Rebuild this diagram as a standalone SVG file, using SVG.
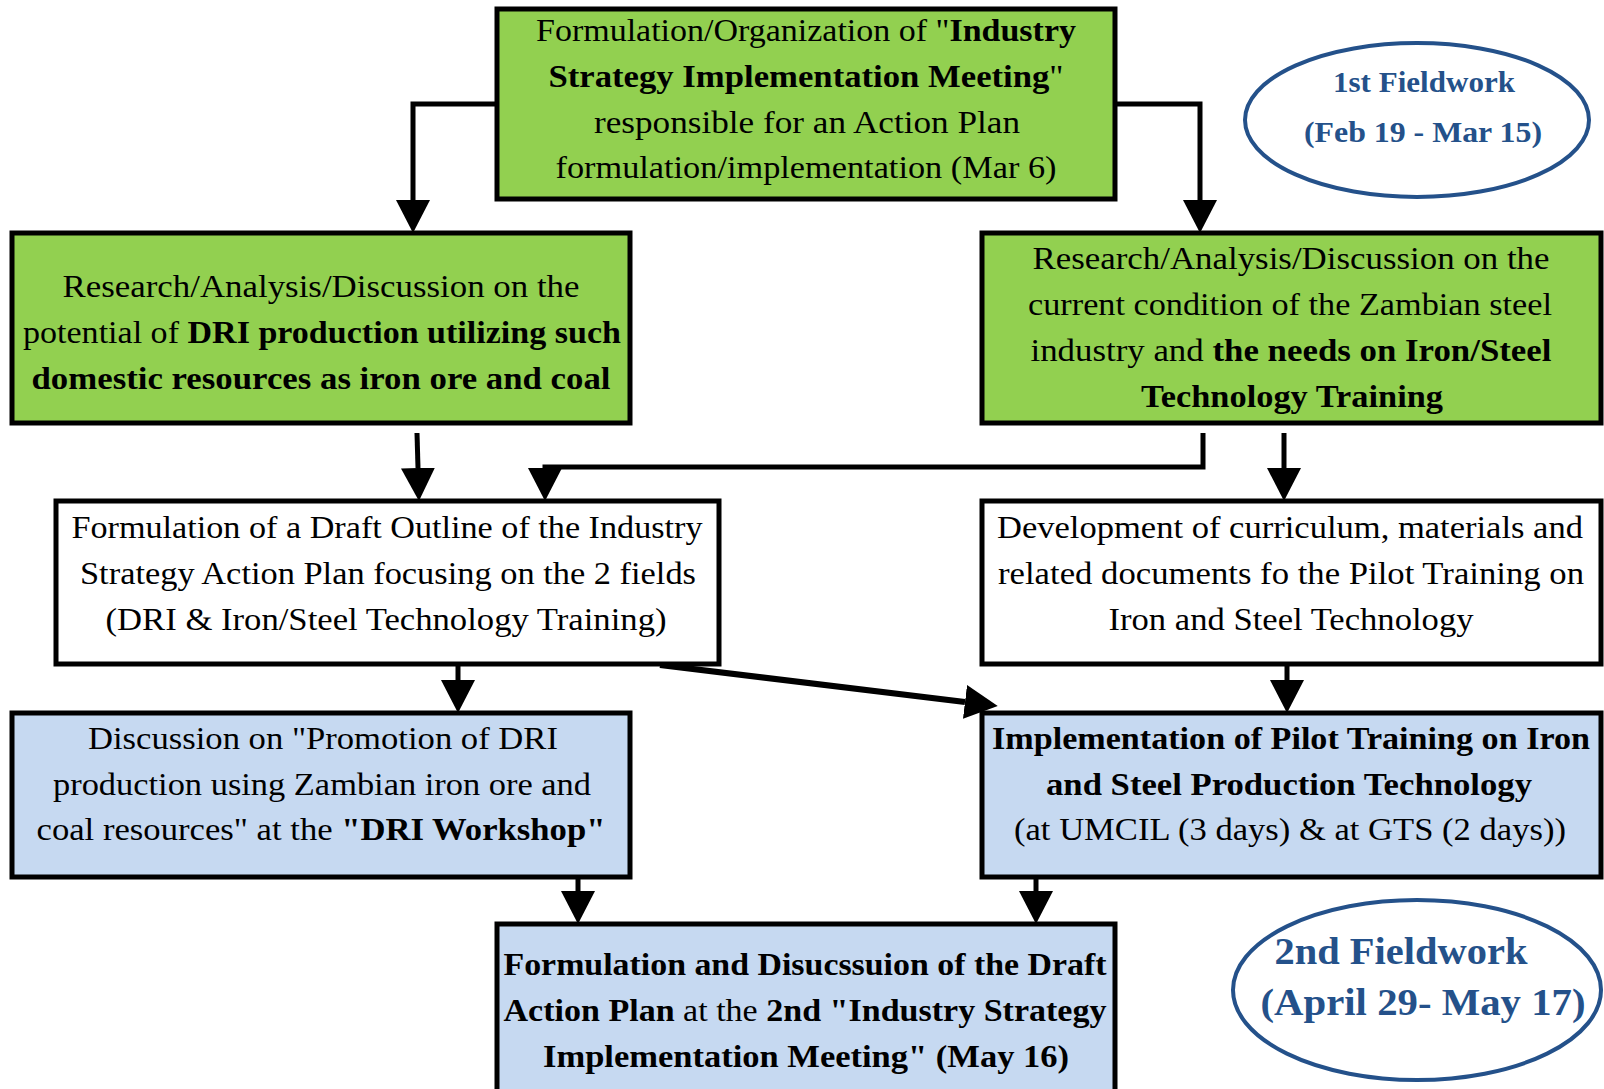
<svg xmlns="http://www.w3.org/2000/svg" width="1604" height="1089" viewBox="0 0 1604 1089">
<style>
.box{stroke:#000;stroke-width:5}
.g{fill:#92D050}
.w{fill:#FFFFFF}
.b{fill:#C6D9F1}
text{font-family:'Liberation Serif','Times New Roman',Times,'Nimbus Roman',serif;font-size:31px;fill:#000;text-anchor:middle}
.bd{font-weight:bold}
.ell{fill:none;stroke:#24518A;stroke-width:4}
.et{fill:#24518A;font-weight:bold}
.c{fill:none;stroke:#000;stroke-width:5}
</style>
<defs>
<marker id="ah" viewBox="0 0 33 34" markerWidth="33" markerHeight="34" refX="0" refY="17" orient="auto" markerUnits="userSpaceOnUse">
<path d="M0,0 L33,17 L0,34 z" fill="#000"/>
</marker>
</defs>
<rect width="1604" height="1089" fill="#FFFFFF"/>
<g id="connectors">
<polyline class="c" points="497,104 413,104 413,200" marker-end="url(#ah)"/>
<polyline class="c" points="1115,104 1200,104 1200,200" marker-end="url(#ah)"/>
<line class="c" x1="417" y1="433" x2="418" y2="468" marker-end="url(#ah)"/>
<polyline class="c" points="1203,433 1203,467 545,467 545,468" marker-end="url(#ah)"/>
<line class="c" x1="1284" y1="433" x2="1284" y2="468" marker-end="url(#ah)"/>
<line class="c" x1="458" y1="664" x2="458" y2="680" marker-end="url(#ah)"/>
<line class="c" x1="1287" y1="664" x2="1287" y2="680" marker-end="url(#ah)"/>
<line x1="660" y1="665" x2="965" y2="702" stroke="#000" stroke-width="6" marker-end="url(#ah)"/>
<line class="c" x1="578" y1="877" x2="578" y2="891" marker-end="url(#ah)"/>
<line class="c" x1="1036" y1="877" x2="1036" y2="891" marker-end="url(#ah)"/>
</g>
<g id="n_top">
<rect class="box g" x="497" y="9" width="618" height="190"/>
<text x="806" y="41" textLength="540" lengthAdjust="spacingAndGlyphs">Formulation/Organization of "<tspan class="bd">Industry</tspan></text>
<text x="806" y="87" textLength="515" lengthAdjust="spacingAndGlyphs"><tspan class="bd">Strategy Implementation Meeting</tspan>"</text>
<text x="807" y="133" textLength="426" lengthAdjust="spacingAndGlyphs">responsible for an Action Plan</text>
<text x="806" y="178" textLength="501" lengthAdjust="spacingAndGlyphs">formulation/implementation (Mar 6)</text>
</g>
<g id="n_left_green">
<rect class="box g" x="12" y="233" width="618" height="190"/>
<text x="321" y="297" textLength="517" lengthAdjust="spacingAndGlyphs">Research/Analysis/Discussion on the</text>
<text x="322" y="343" textLength="598" lengthAdjust="spacingAndGlyphs">potential of <tspan class="bd">DRI production utilizing such</tspan></text>
<text x="321" y="389" class="bd" textLength="579" lengthAdjust="spacingAndGlyphs">domestic resources as iron ore and coal</text>
</g>
<g id="n_right_green">
<rect class="box g" x="982" y="233" width="619" height="190"/>
<text x="1291" y="269" textLength="517" lengthAdjust="spacingAndGlyphs">Research/Analysis/Discussion on the</text>
<text x="1290" y="315" textLength="524" lengthAdjust="spacingAndGlyphs">current condition of the Zambian steel</text>
<text x="1291" y="361" textLength="521" lengthAdjust="spacingAndGlyphs">industry and <tspan class="bd">the needs on Iron/Steel</tspan></text>
<text x="1292" y="407" class="bd" textLength="302" lengthAdjust="spacingAndGlyphs">Technology Training</text>
</g>
<g id="n_draft">
<rect class="box w" x="56" y="501" width="663" height="163"/>
<text x="387" y="538" textLength="631" lengthAdjust="spacingAndGlyphs">Formulation of a Draft Outline of the Industry</text>
<text x="388" y="584" textLength="616" lengthAdjust="spacingAndGlyphs">Strategy Action Plan focusing on the 2 fields</text>
<text x="386" y="630" textLength="561" lengthAdjust="spacingAndGlyphs">(DRI &amp; Iron/Steel Technology Training)</text>
</g>
<g id="n_dev">
<rect class="box w" x="982" y="501" width="619" height="163"/>
<text x="1290" y="538" textLength="586" lengthAdjust="spacingAndGlyphs">Development of curriculum, materials and</text>
<text x="1291" y="584" textLength="586" lengthAdjust="spacingAndGlyphs">related documents fo the Pilot Training on</text>
<text x="1291" y="630" textLength="365" lengthAdjust="spacingAndGlyphs">Iron and Steel Technology</text>
</g>
<g id="n_disc">
<rect class="box b" x="12" y="713" width="618" height="164"/>
<text x="323" y="749" textLength="470" lengthAdjust="spacingAndGlyphs">Discussion on "Promotion of DRI</text>
<text x="322" y="795" textLength="538" lengthAdjust="spacingAndGlyphs">production using Zambian iron ore and</text>
<text x="321" y="840" textLength="569" lengthAdjust="spacingAndGlyphs">coal resources" at the <tspan class="bd">"DRI Workshop"</tspan></text>
</g>
<g id="n_impl">
<rect class="box b" x="982" y="713" width="619" height="164"/>
<text x="1291" y="749" class="bd" textLength="598" lengthAdjust="spacingAndGlyphs">Implementation of Pilot Training on Iron</text>
<text x="1289" y="795" class="bd" textLength="486" lengthAdjust="spacingAndGlyphs">and Steel Production Technology</text>
<text x="1290" y="840" textLength="552" lengthAdjust="spacingAndGlyphs">(at UMCIL (3 days) &amp; at GTS (2 days))</text>
</g>
<g id="n_final">
<rect class="box b" x="497" y="924" width="618" height="180"/>
<text x="805" y="975" class="bd" textLength="603" lengthAdjust="spacingAndGlyphs">Formulation and Disucssuion of the Draft</text>
<text x="805" y="1021" textLength="603" lengthAdjust="spacingAndGlyphs"><tspan class="bd">Action Plan</tspan> at the <tspan class="bd">2nd "Industry Strategy</tspan></text>
<text x="806" y="1067" class="bd" textLength="526" lengthAdjust="spacingAndGlyphs">Implementation Meeting" (May 16)</text>
</g>
<g id="n_field1">
<ellipse class="ell" cx="1417" cy="120" rx="172" ry="77"/>
<text class="et" x="1424" y="92" style="font-size:29px" textLength="182" lengthAdjust="spacingAndGlyphs">1st Fieldwork</text>
<text class="et" x="1423" y="142" style="font-size:29px" textLength="238" lengthAdjust="spacingAndGlyphs">(Feb 19 - Mar 15)</text>
</g>
<g id="n_field2">
<ellipse class="ell" cx="1417" cy="990" rx="184" ry="90"/>
<text class="et" x="1401" y="964" style="font-size:37px" textLength="253" lengthAdjust="spacingAndGlyphs">2nd Fieldwork</text>
<text class="et" x="1423" y="1015" style="font-size:37px" textLength="325" lengthAdjust="spacingAndGlyphs">(April 29- May 17)</text>
</g>
</svg>
